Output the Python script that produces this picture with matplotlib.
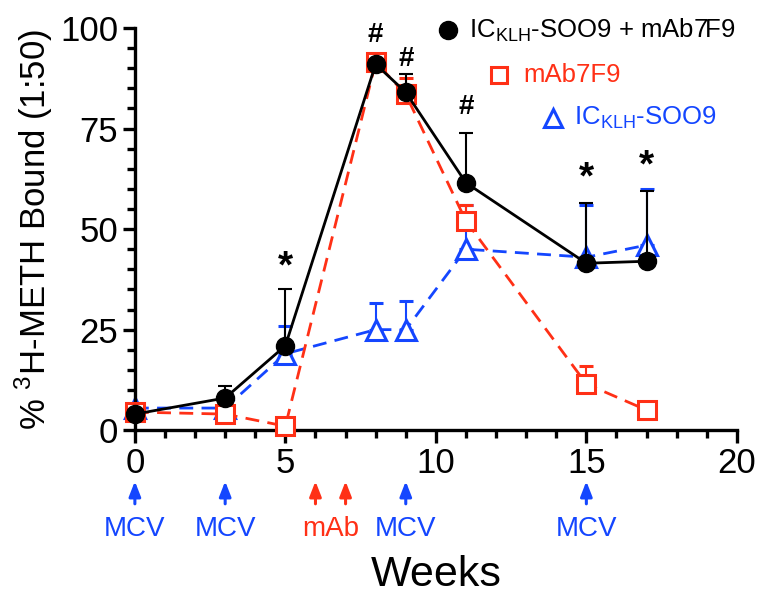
import matplotlib

matplotlib.use("Agg")
import matplotlib.pyplot as plt
import numpy as np

plt.rcParams["font.family"] = ["Liberation Sans", "DejaVu Sans"]

BLACK, RED, BLUE = "#000000", "#ff3016", "#1446ff"

weeks = [0, 3, 5, 8, 9, 11, 15, 17]
combo = [4, 8, 21, 91, 84, 61.5, 41.5, 42]
combo_err = [0, 3, 14, 0, 4.5, 12.5, 15, 17.5]
mab = [4.5, 4, 1, 91.5, 83.5, 52, 11.5, 5]
mab_err = [0, 0, 0, 0, 4, 4, 4.5, 0]
ic = [5.5, 5.5, 19, 25, 25, 45, 43, 46]
ic_err = [0, 0, 7, 6.5, 7, 11, 13, 14]

marks = [(5, 36, "*"), (8, 95, "#"), (9, 89, "#"), (11, 77, "#"), (15, 58, "*"), (17, 61, "*")]
doses = [(0, "MCV", BLUE), (3, "MCV", BLUE), (6, "", RED), (7, "", RED), (9, "MCV", BLUE), (15, "MCV", BLUE)]

fig = plt.figure(figsize=(7.62, 5.95), dpi=100)
ax = fig.add_axes([0.177, 0.277, 0.79, 0.676])

ax.errorbar(weeks, ic, yerr=[np.zeros(len(ic)), ic_err], color=BLUE, ls=(0, (5, 3)), lw=2,
            marker="^", ms=14, mfc="white", mec=BLUE, mew=2.2, capsize=5, elinewidth=1.5,
            capthick=1.5, clip_on=False, zorder=2)
ax.errorbar(weeks, mab, yerr=[np.zeros(len(mab)), mab_err], color=RED, ls=(0, (5, 3)), lw=2,
            marker="s", ms=13, mfc="white", mec=RED, mew=2.2, capsize=5, elinewidth=1.5,
            capthick=1.5, clip_on=False, zorder=3)
ax.errorbar(weeks, combo, yerr=[np.zeros(len(combo)), combo_err], color=BLACK, ls="-", lw=2,
            marker="o", ms=13, capsize=5, elinewidth=1.5, capthick=1.5, clip_on=False, zorder=4)

for x, y, s in marks:
    ax.text(x, y, s, ha="center", va="bottom", fontsize=28 if s == "*" else 20,
            fontweight="bold", color=BLACK)

# legend drawn as free text
ax.plot([10.4], [99.5], "o", color=BLACK, ms=13, clip_on=False)
ax.text(11.1, 99.5, "IC$_{\\mathregular{KLH}}$-SOO9 + mAb7F9", fontsize=18.5, va="center")
ax.plot([12.1], [88.3], "s", mfc="white", mec=RED, mew=2.2, ms=12, clip_on=False)
ax.text(12.9, 88.3, "mAb7F9", fontsize=18.5, va="center", color=RED)
ax.plot([13.9], [77.6], "^", mfc="white", mec=BLUE, mew=2.2, ms=13, clip_on=False)
ax.text(14.6, 77.6, "IC$_{\\mathregular{KLH}}$-SOO9", fontsize=18.5, va="center", color=BLUE)

ax.set_xlim(0, 20)
ax.set_ylim(0, 100)
ax.set_xticks([0, 5, 10, 15, 20])
ax.set_xticks(np.arange(0, 21, 1), minor=True)
ax.set_yticks([0, 25, 50, 75, 100])
ax.set_yticks(np.arange(0, 101, 5), minor=True)
ax.tick_params(labelsize=25, width=2.4, length=9, direction="out", pad=3)
ax.tick_params(which="minor", width=2.4, length=6)
for side in ("top", "right"):
    ax.spines[side].set_visible(False)
for side in ("left", "bottom"):
    ax.spines[side].set_linewidth(2.4)
ax.set_ylabel("% $^{\\mathregular{3}}$H-METH Bound (1:50)", fontsize=25, labelpad=4)

for x, lab, c in doses:
    ax.annotate("", xy=(x, -12), xytext=(x, -19), xycoords="data", textcoords="data",
                annotation_clip=False,
                arrowprops=dict(arrowstyle="-|>,head_width=0.35,head_length=0.9", color=c, lw=2.2))
    if lab:
        ax.text(x, -21.3, lab, ha="center", va="top", fontsize=20, color=c, clip_on=False)
ax.text(6.5, -21.3, "mAb", ha="center", va="top", fontsize=20, color=RED, clip_on=False)
ax.text(10, -31, "Weeks", ha="center", va="top", fontsize=31, clip_on=False)

fig.savefig("out.png", dpi=100)
